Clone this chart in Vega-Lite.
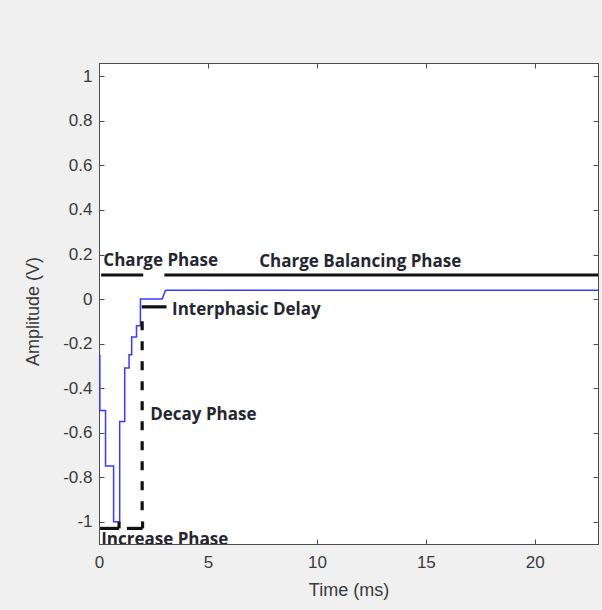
{
  "$schema": "https://vega.github.io/schema/vega-lite/v6.json",
  "width": 499,
  "height": 481,
  "autosize": {"type": "none"},
  "padding": {"left": 99, "top": 63, "right": 4, "bottom": 66},
  "background": "#f0f0f0",
  "config": {
    "view": {"fill": "white", "stroke": "#4d4d4d", "strokeWidth": 1},
    "axis": {
      "grid": false,
      "domainColor": "#4d4d4d",
      "tickColor": "#4d4d4d",
      "labelColor": "#3a3a3a",
      "titleColor": "#3a3a3a",
      "labelFont": "Liberation Sans",
      "titleFont": "Liberation Sans",
      "labelFontSize": 17,
      "titleFontSize": 18,
      "titleFontWeight": "normal",
      "tickSize": -5,
      "labelFlush": false
    }
  },
  "datasets": {
    "signal": [
      {"i": 0, "t": 0.04, "v": -0.25},
      {"i": 1, "t": 0.04, "v": -0.5},
      {"i": 2, "t": 0.3, "v": -0.5},
      {"i": 3, "t": 0.3, "v": -0.75},
      {"i": 4, "t": 0.67, "v": -0.75},
      {"i": 5, "t": 0.67, "v": -1.0},
      {"i": 6, "t": 0.95, "v": -1.0},
      {"i": 7, "t": 0.95, "v": -0.55},
      {"i": 8, "t": 1.18, "v": -0.55},
      {"i": 9, "t": 1.18, "v": -0.31},
      {"i": 10, "t": 1.38, "v": -0.31},
      {"i": 11, "t": 1.38, "v": -0.25},
      {"i": 12, "t": 1.5, "v": -0.25},
      {"i": 13, "t": 1.5, "v": -0.17},
      {"i": 14, "t": 1.72, "v": -0.17},
      {"i": 15, "t": 1.72, "v": -0.12},
      {"i": 16, "t": 1.9, "v": -0.12},
      {"i": 17, "t": 1.9, "v": 0.0},
      {"i": 18, "t": 2.9, "v": 0.0},
      {"i": 19, "t": 3.05, "v": 0.04},
      {"i": 20, "t": 22.9, "v": 0.04}
    ],
    "segments": [
      {"t": 0.1, "t2": 2.03, "v": 0.108, "v2": 0.108},
      {"t": 3.0, "t2": 22.9, "v": 0.108, "v2": 0.108},
      {"t": 1.96, "t2": 3.1, "v": -0.035, "v2": -0.035},
      {"t": 0.05, "t2": 0.92, "v": -1.03, "v2": -1.03},
      {"t": 0.92, "t2": 0.92, "v": -1.03, "v2": -1.0},
      {"t": 1.28, "t2": 2.0, "v": -1.03, "v2": -1.03},
      {"t": 2.0, "t2": 2.0, "v": -1.03, "v2": -1.0}
    ],
    "dashed": [
      {"t": 1.98, "v": -0.1, "v2": -1.0}
    ],
    "labels": [
      {"t": 0.2, "v": 0.148, "text": "Charge Phase"},
      {"t": 7.35, "v": 0.143, "text": "Charge Balancing Phase"},
      {"t": 3.35, "v": -0.072, "text": "Interphasic Delay"},
      {"t": 2.35, "v": -0.543, "text": "Decay Phase"}
    ],
    "cliplabels": [
      {"t": 0.1, "v": -1.103, "text": "Increase Phase"}
    ]
  },
  "layer": [
    {
      "data": {"name": "signal"},
      "mark": {"type": "line", "color": "#3a3aff", "strokeWidth": 1.5, "clip": true},
      "encoding": {
        "x": {
          "field": "t", "type": "quantitative",
          "scale": {"domain": [0, 22.9], "nice": false, "zero": false},
          "axis": {"orient": "bottom", "values": [0, 5, 10, 15, 20], "labelPadding": 15, "title": "Time (ms)", "titleY": 46, "titleBaseline": "middle"}
        },
        "y": {
          "field": "v", "type": "quantitative",
          "scale": {"domain": [-1.1, 1.06], "nice": false, "zero": false},
          "axis": {"orient": "left", "values": [-1, -0.8, -0.6, -0.4, -0.2, 0, 0.2, 0.4, 0.6, 0.8, 1], "labelExpr": "'' + datum.value", "labelPadding": 12, "title": "Amplitude (V)", "titleX": -66, "titleY": 248, "titleAngle": 270, "titleBaseline": "middle", "titleAlign": "center"}
        },
        "order": {"field": "i", "type": "quantitative"}
      }
    },
    {
      "data": {"name": "segments"},
      "mark": {"type": "rule", "color": "#111111", "strokeWidth": 3.2, "clip": true},
      "encoding": {
        "x": {"field": "t", "type": "quantitative", "axis": {"orient": "top", "values": [0, 5, 10, 15, 20], "labels": false, "title": null}},
        "x2": {"field": "t2"},
        "y": {"field": "v", "type": "quantitative", "axis": {"orient": "right", "values": [-1, -0.8, -0.6, -0.4, -0.2, 0, 0.2, 0.4, 0.6, 0.8, 1], "labels": false, "title": null}},
        "y2": {"field": "v2"}
      }
    },
    {
      "data": {"name": "dashed"},
      "mark": {"type": "rule", "color": "#111111", "strokeWidth": 3.2, "strokeDash": [9, 11], "clip": true},
      "encoding": {
        "x": {"field": "t", "type": "quantitative", "axis": null},
        "y": {"field": "v", "type": "quantitative", "axis": null},
        "y2": {"field": "v2"}
      }
    },
    {
      "data": {"name": "labels"},
      "mark": {"type": "text", "align": "left", "baseline": "alphabetic", "font": "Open Sans", "fontWeight": "bold", "fontSize": 17, "color": "#262630"},
      "encoding": {
        "x": {"field": "t", "type": "quantitative", "axis": null},
        "y": {"field": "v", "type": "quantitative", "axis": null},
        "text": {"field": "text"}
      }
    },
    {
      "data": {"name": "cliplabels"},
      "mark": {"type": "text", "align": "left", "baseline": "alphabetic", "font": "Open Sans", "fontWeight": "bold", "fontSize": 17, "color": "#262630", "clip": true},
      "encoding": {
        "x": {"field": "t", "type": "quantitative", "axis": null},
        "y": {"field": "v", "type": "quantitative", "axis": null},
        "text": {"field": "text"}
      }
    }
  ],
  "resolve": {"axis": {"x": "independent", "y": "independent"}}
}
